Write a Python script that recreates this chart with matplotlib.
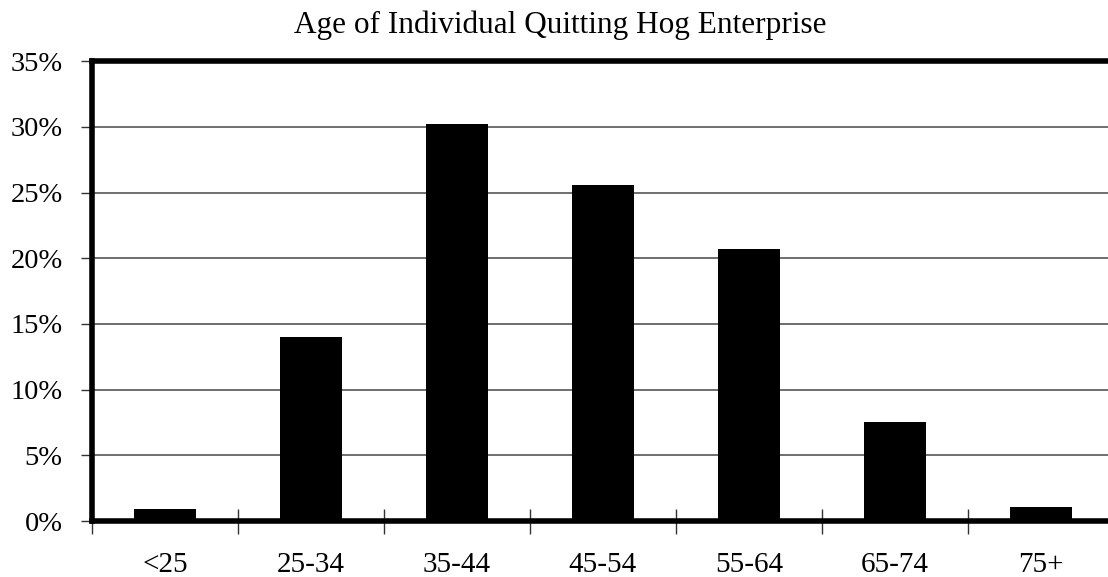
import matplotlib.pyplot as plt
import numpy as np

plt.rcParams['font.family'] = ['Liberation Serif', 'DejaVu Serif']

categories = ["<25", "25-34", "35-44", "45-54", "55-64", "65-74", "75+"]
shares = [0.9, 14.0, 30.2, 25.6, 20.7, 7.5, 1.1]
y_ticks = [0, 5, 10, 15, 20, 25, 30, 35]

fig = plt.figure(figsize=(11.08, 5.77), dpi=100)
ax = fig.add_axes([0.083, 0.097, 0.9224, 0.797])

x = np.arange(len(categories))
ax.bar(x, shares, width=0.42, color="black", zorder=3)

ax.set_xlim(-0.5, len(categories) - 0.5)
ax.set_ylim(0, 35)
ax.set_yticks(y_ticks)
ax.set_yticklabels([f"{v}%" for v in y_ticks], fontsize=20.5)
ax.yaxis.grid(True, color="#555555", linewidth=1.2, zorder=0)

# category labels in the middle, tick marks between the bars
ax.set_xticks(x)
ax.set_xticklabels(categories, fontsize=21)
ax.tick_params(axis="x", which="major", length=0, pad=22.5)
ax.set_xticks(np.arange(-0.5, len(categories)), minor=True)
ax.tick_params(axis="x", which="minor", direction="inout", length=18, width=1, color="#333333")
ax.tick_params(axis="y", direction="out", length=8, width=1, color="#333333", pad=13)

for side in ["top", "left", "bottom", "right"]:
    ax.spines[side].set_linewidth(4)
    ax.spines[side].set_color("black")

# title sits on the figure centre, not on the (clipped) axes centre
fig.text(0.506, 0.943, "Age of Individual Quitting Hog Enterprise", fontsize=22.5,
         ha="center", va="baseline")

fig.savefig("out.png", dpi=100)
